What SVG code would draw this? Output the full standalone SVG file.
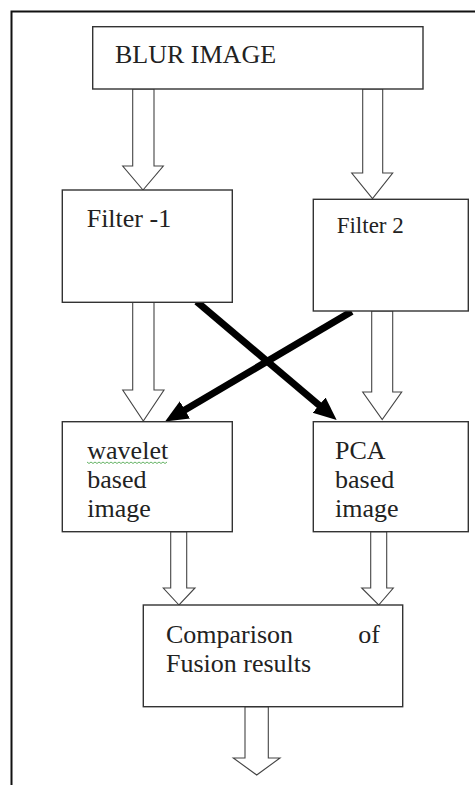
<svg xmlns="http://www.w3.org/2000/svg" width="475" height="785" viewBox="0 0 475 785">
<style>
.box{fill:#fff;stroke:#333;stroke-width:1.4}
.t{font-family:"Liberation Serif","Times New Roman",serif;font-size:26px;fill:#222}
.ha{fill:#fff;stroke:#444;stroke-width:1.1;stroke-linejoin:miter}
.thick{stroke:#000;stroke-width:7;fill:none;marker-end:url(#ah)}
</style>
<defs>
<marker id="ah" markerUnits="userSpaceOnUse" markerWidth="26" markerHeight="22" refX="8" refY="10" orient="auto">
<path d="M0,0 L23,10 L0,20 z" fill="#000"/>
</marker>
</defs>
<rect x="0" y="0" width="475" height="785" fill="#fff"/>
<path d="M11.5,785 V11.5 H475" fill="none" stroke="#111" stroke-width="2"/>
<g id="connectors">
<polygon class="ha" points="132.7,89 154,89 154,166 163.3,166 143,190 122.7,166 132.7,166"/>
<polygon class="ha" points="362.7,89 382.7,89 382.7,173 392.7,173 372.5,198.5 351.7,173 362.7,173"/>
<polygon class="ha" points="132.7,302.3 154,302.3 154,390 164,390 143.3,421 122.7,390 132.7,390"/>
<polygon class="ha" points="371.7,311 392.7,311 392.7,392 401.7,392 382.2,419.5 362.7,392 371.7,392"/>
<polygon class="ha" points="170.7,531.7 186.7,531.7 186.7,588 195,588 179,605 163.3,588 170.7,588"/>
<polygon class="ha" points="370.7,531.7 386.7,531.7 386.7,588 393.3,588 378.7,605 361.7,588 370.7,588"/>
<polygon class="ha" points="245,706.7 268.3,706.7 268.3,758 280,758 256.7,775 233.3,758 245,758"/>
<line class="thick" x1="196.7" y1="301.7" x2="325.2" y2="410.3"/>
<line class="thick" x1="351.7" y1="311.5" x2="178" y2="414"/>
</g>
<g id="blur">
<rect class="box" x="92.7" y="26.7" width="330.3" height="62.3"/>
<text class="t" x="115" y="63">BLUR IMAGE</text>
</g>
<g id="filter1">
<rect class="box" x="62.3" y="190" width="170" height="112.3"/>
<text class="t" x="86.7" y="226.7">Filter -1</text>
</g>
<g id="filter2">
<rect class="box" x="313.3" y="199.3" width="155" height="111.7"/>
<text class="t" x="336.7" y="233.3" style="font-size:23px">Filter 2</text>
</g>
<g id="wavelet">
<rect class="box" x="62.3" y="421.7" width="170" height="110"/>
<text class="t" x="87.3" y="459">wavelet</text>
<path d="M87,462 l2,1.5 l2,-1.5 l2,1.5 l2,-1.5 l2,1.5 l2,-1.5 l2,1.5 l2,-1.5 l2,1.5 l2,-1.5 l2,1.5 l2,-1.5 l2,1.5 l2,-1.5 l2,1.5 l2,-1.5 l2,1.5 l2,-1.5 l2,1.5 l2,-1.5 l2,1.5 l2,-1.5 l2,1.5 l2,-1.5 l2,1.5 l2,-1.5 l2,1.5 l2,-1.5 l2,1.5 l2,-1.5 l2,1.5 l2,-1.5 l2,1.5 l2,-1.5 l2,1.5 l2,-1.5 l2,1.5 l2,-1.5 l2,1.5 l2,-1.5" fill="none" stroke="#5a5" stroke-width="0.9"/>
<text class="t" x="87.3" y="488">based</text>
<text class="t" x="87.3" y="516.5">image</text>
</g>
<g id="pca">
<rect class="box" x="313.3" y="421.7" width="155" height="110"/>
<text class="t" x="335" y="459">PCA</text>
<text class="t" x="335" y="488">based</text>
<text class="t" x="335" y="516.5">image</text>
</g>
<g id="comparison">
<rect class="box" x="143.3" y="605" width="259.4" height="101.7"/>
<text class="t" x="166" y="643.3">Comparison</text>
<text class="t" x="358.3" y="643.3">of</text>
<text class="t" x="166" y="671.7">Fusion results</text>
</g>
</svg>
